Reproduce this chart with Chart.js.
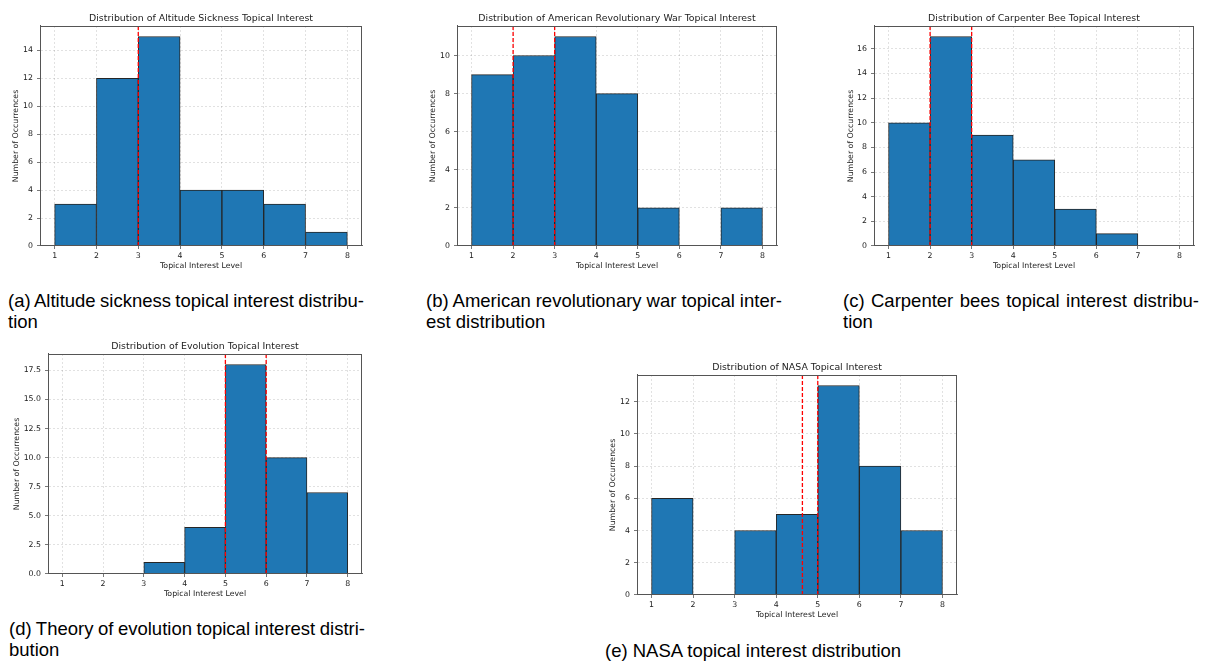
<!DOCTYPE html>
<html>
<head>
<meta charset="utf-8">
<script src="https://cdn.jsdelivr.net/npm/chart.js@4.4.1/dist/chart.umd.min.js"></script>
<style>
  html, body { margin: 0; padding: 0; background: #fff; }
  body { width: 1206px; height: 664px; position: relative; overflow: hidden; }
  .panel { position: absolute; }
  .caption {
    position: absolute;
    font-family: "Liberation Sans", Arial, sans-serif;
    font-size: 18.5px;
    line-height: 21px;
    color: #000;
    white-space: nowrap;
  }
  .caption .full { text-align: justify; text-align-last: justify; white-space: normal; word-spacing: -3px; }
</style>
</head>
<body>
<script>
// histogram bins (topical interest level 1..8)
const binEdges = [1, 2, 3, 4, 5, 6, 7, 8];
const xTicks = [1, 2, 3, 4, 5, 6, 7, 8];

const altitudeCounts = [3, 12, 15, 4, 4, 3, 1];
const revolutionCounts = [9, 10, 11, 8, 2, 0, 2];
const carpenterCounts = [10, 17, 9, 7, 3, 1, 0];
const evolutionCounts = [0, 0, 1, 4, 18, 10, 7];
const nasaCounts = [6, 0, 4, 5, 13, 8, 4];

// red dashed markers
const altitudeLines = [3];
const revolutionLines = [2, 3];
const carpenterLines = [2, 3];
const evolutionLines = [5, 6];
const nasaLines = [4.63, 5];

const altitudeYTicks = [0, 2, 4, 6, 8, 10, 12, 14];
const revolutionYTicks = [0, 2, 4, 6, 8, 10];
const carpenterYTicks = [0, 2, 4, 6, 8, 10, 12, 14, 16];
const evolutionYTicks = [0, 2.5, 5, 7.5, 10, 12.5, 15, 17.5];
const nasaYTicks = [0, 2, 4, 6, 8, 10, 12];

const topics = ["Altitude Sickness", "American Revolutionary War", "Carpenter Bee", "Evolution", "NASA"];
const captions = [
  ["(a) Altitude sickness topical interest distribu-", "tion"],
  ["(b) American revolutionary war topical inter-", "est distribution"],
  ["(c) Carpenter bees topical interest distribu-", "tion"],
  ["(d) Theory of evolution topical interest distri-", "bution"],
  ["(e) NASA topical interest distribution"]
];

// layout: axes box (left, top, right, bottom), y title offset, caption spot
const panels = [
  { counts: altitudeCounts, lines: altitudeLines, yTicks: altitudeYTicks, dec: 0,
    box: [40, 26, 362, 246], yOff: 24.3, cap: [8, 290] },
  { counts: revolutionCounts, lines: revolutionLines, yTicks: revolutionYTicks, dec: 0,
    box: [457, 26, 777, 246], yOff: 23.7, cap: [426, 290] },
  { counts: carpenterCounts, lines: carpenterLines, yTicks: carpenterYTicks, dec: 0,
    box: [874, 26, 1194, 246], yOff: 23.3, cap: [843, 290] },
  { counts: evolutionCounts, lines: evolutionLines, yTicks: evolutionYTicks, dec: 1,
    box: [48, 354, 362, 574], yOff: 31.3, cap: [9, 618] },
  { counts: nasaCounts, lines: nasaLines, yTicks: nasaYTicks, dec: 0,
    box: [637, 375, 957, 595], yOff: 24.3, cap: [605, 640] }
];

const TEXT = '#222';
const SPINE = '#555';
const FONT = '"DejaVu Sans", sans-serif';

// draw the full frame round the plot area like matplotlib spines
const framePlugin = {
  id: 'frame',
  afterDraw(chart) {
    const a = chart.chartArea;
    const ctx = chart.ctx;
    ctx.save();
    ctx.strokeStyle = SPINE;
    ctx.lineWidth = 1;
    ctx.strokeRect(Math.round(a.left) + 0.5, Math.round(a.top) + 0.5,
      Math.round(a.right - a.left) - 1, Math.round(a.bottom - a.top) - 1);
    ctx.restore();
  }
};

panels.forEach((p, i) => {
  const [l, t, r, b] = p.box;
  const W = (r - l) + 50;
  const H = (b - t) + 56;

  const div = document.createElement('div');
  div.className = 'panel';
  div.style.left = (l - 40) + 'px';
  div.style.top = (t - 26) + 'px';
  const canvas = document.createElement('canvas');
  canvas.width = W;
  canvas.height = H;
  canvas.style.width = W + 'px';
  canvas.style.height = H + 'px';
  div.appendChild(canvas);
  document.body.appendChild(div);

  const yMax = Math.max(...p.counts) * 1.05;
  const centers = binEdges.slice(0, -1).map((e, k) => (e + binEdges[k + 1]) / 2);

  const lineSets = p.lines.map(v => ({
    type: 'line',
    data: [{ x: v, y: 0 }, { x: v, y: yMax }],
    borderColor: '#ff0000',
    borderWidth: 1.3,
    borderDash: [4, 2],
    pointRadius: 0,
    fill: false,
    order: 0
  }));

  new Chart(canvas, {
    type: 'bar',
    data: {
      datasets: [
        ...lineSets,
        {
          type: 'bar',
          data: centers.map((c, k) => ({ x: c, y: p.counts[k] })),
          backgroundColor: '#1f77b4',
          borderColor: '#262626',
          borderWidth: 1,
          borderSkipped: false,
          barPercentage: 1,
          categoryPercentage: 1,
          order: 1
        }
      ]
    },
    options: {
      responsive: false,
      animation: false,
      devicePixelRatio: 1,
      layout: { padding: { left: 0, right: 10, top: 0, bottom: 0 } },
      plugins: {
        legend: { display: false },
        tooltip: { enabled: false },
        title: {
          display: true,
          fullSize: false,
          text: 'Distribution of ' + topics[i] + ' Topical Interest',
          color: TEXT,
          font: { family: FONT, size: 9.4, weight: 'normal' },
          padding: { top: 12.8, bottom: 1.9 }
        }
      },
      scales: {
        x: {
          type: 'linear',
          min: 0.65,
          max: 8.35,
          offset: false,
          afterBuildTicks: axis => { axis.ticks = xTicks.map(v => ({ value: v })); },
          afterFit: axis => { axis.height = 30; },
          ticks: { color: TEXT, font: { family: FONT, size: 7.8 }, padding: 2, maxRotation: 0 },
          grid: { color: 'rgba(0,0,0,0.15)', lineWidth: 0.8, offset: false, tickLength: 3, tickColor: SPINE },
          border: { color: SPINE, width: 1, dash: [2, 2] },
          title: {
            display: true, text: 'Topical Interest Level', color: TEXT,
            font: { family: FONT, size: 7.8 }, padding: { top: 0, bottom: 5.6 }
          }
        },
        y: {
          min: 0,
          max: yMax,
          afterBuildTicks: axis => { axis.ticks = p.yTicks.map(v => ({ value: v })); },
          afterFit: axis => { axis.width = 40; },
          ticks: {
            color: TEXT, font: { family: FONT, size: 7.8 }, padding: 4,
            callback: v => v.toFixed(p.dec)
          },
          grid: { color: 'rgba(0,0,0,0.15)', lineWidth: 0.8, tickLength: 3, tickColor: SPINE },
          border: { color: SPINE, width: 1, dash: [2, 2] },
          title: {
            display: true, text: 'Number of Occurrences', color: TEXT,
            font: { family: FONT, size: 7.8 }, padding: { top: 40 - p.yOff - 4.68, bottom: 0 }
          }
        }
      }
    },
    plugins: [framePlugin]
  });

  // caption below the subplot
  const cap = document.createElement('div');
  cap.className = 'caption';
  cap.style.left = p.cap[0] + 'px';
  cap.style.top = p.cap[1] + 'px';
  const lines = captions[i];
  if (lines.length > 1) {
    cap.style.width = '356px';
    const first = document.createElement('div');
    first.className = 'full';
    first.textContent = lines[0];
    const second = document.createElement('div');
    second.textContent = lines[1];
    cap.appendChild(first);
    cap.appendChild(second);
  } else {
    cap.textContent = lines[0];
  }
  document.body.appendChild(cap);
});
</script>
</body>
</html>
